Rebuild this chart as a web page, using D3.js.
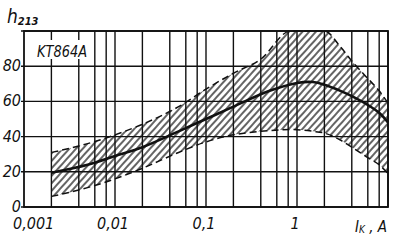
<!DOCTYPE html>
<html>
<head>
<meta charset="utf-8">
<script src="https://cdn.jsdelivr.net/npm/d3@7"></script>
<style>
  body { margin: 0; background: #fff; }
  text { font-family: "DejaVu Sans Condensed", "DejaVu Sans", sans-serif; font-style: italic; fill: #111; }
</style>
</head>
<body>
<script>
// data (h21E vs collector current)
const bandCurrent = [0.002, 0.005, 0.01, 0.02, 0.05, 0.1, 0.2, 0.4, 0.85, 1.5, 2, 3, 4, 6, 8, 10];
const bandUpper   = [31, 36, 41, 47, 57, 67, 76, 84, 100, 100, 100, 91, 83, 73, 66, 59];
const bandLower   = [6, 11, 16, 22, 31, 37, 41, 43, 44, 43, 42, 38, 34, 28, 24, 19];

const typCurrent = [0.002, 0.005, 0.01, 0.02, 0.05, 0.1, 0.2, 0.5, 1, 1.5, 2, 3, 4, 6, 8, 10];
const typGain    = [19.5, 24, 29, 34, 43, 50, 57, 66, 70.5, 71, 69.5, 66, 63, 58, 53.5, 48];

const gridCurrent = [0.002, 0.004, 0.006, 0.008, 0.01, 0.02, 0.04, 0.06, 0.08, 0.1,
                     0.2, 0.4, 0.6, 0.8, 1, 2, 4, 6, 8, 10];
const xTicks = [0.001, 0.01, 0.1, 1];
const xTickLabels = ["0,001", "0,01", "0,1", "1"];
const yTicks = [0, 20, 40, 60, 80, 100];

const W = 400, H = 247;
const x = d3.scaleLog().domain([0.001, 10]).range([24, 388]);
const y = d3.scaleLinear().domain([0, 100]).range([207, 31]);

const svg = d3.select("body").append("svg")
    .attr("width", W)
    .attr("height", H);

svg.append("rect").attr("width", W).attr("height", H).attr("fill", "#fff");

// hatch pattern
svg.append("defs").append("pattern")
    .attr("id", "hatch")
    .attr("patternUnits", "userSpaceOnUse")
    .attr("width", 5)
    .attr("height", 10)
    .attr("patternTransform", "rotate(42)")
  .append("line")
    .attr("x1", 1).attr("y1", 0)
    .attr("x2", 1).attr("y2", 10)
    .attr("stroke", "#111")
    .attr("stroke-width", 1.3);

const band = bandCurrent.map((c, i) => ({c, hi: bandUpper[i], lo: bandLower[i]}));

svg.append("path")
    .datum(band)
    .attr("fill", "url(#hatch)")
    .attr("d", d3.area()
        .x(d => x(d.c))
        .y0(d => y(d.lo))
        .y1(d => y(d.hi))
        .curve(d3.curveMonotoneX));

// grid
const grid = svg.append("g").attr("stroke", "#111").attr("stroke-width", 1.4);
grid.selectAll("line.v")
    .data(gridCurrent)
    .join("line")
    .attr("class", "v")
    .attr("x1", d => x(d)).attr("x2", d => x(d))
    .attr("y1", y(100)).attr("y2", y(0));
grid.selectAll("line.h")
    .data(yTicks)
    .join("line")
    .attr("class", "h")
    .attr("x1", x(0.001) - 3).attr("x2", x(10))
    .attr("y1", d => y(d)).attr("y2", d => y(d));

// frame
svg.append("rect")
    .attr("x", x(0.001)).attr("y", y(100))
    .attr("width", x(10) - x(0.001))
    .attr("height", y(0) - y(100))
    .attr("fill", "none")
    .attr("stroke", "#111")
    .attr("stroke-width", 1.8);

// dashed bounds
const dashed = d3.line().x(d => x(d[0])).y(d => y(d[1])).curve(d3.curveMonotoneX);
[bandUpper, bandLower].forEach(vals => {
    svg.append("path")
        .datum(bandCurrent.map((c, i) => [c, vals[i]]))
        .attr("fill", "none")
        .attr("stroke", "#111")
        .attr("stroke-width", 1.5)
        .attr("stroke-dasharray", "7,4")
        .attr("d", dashed);
});

// typical curve
svg.append("path")
    .datum(typCurrent.map((c, i) => [c, typGain[i]]))
    .attr("fill", "none")
    .attr("stroke", "#111")
    .attr("stroke-width", 2.6)
    .attr("d", d3.line().x(d => x(d[0])).y(d => y(d[1])).curve(d3.curveCatmullRom));

// y tick labels
svg.selectAll("text.ytick")
    .data(yTicks.filter(d => d < 100))
    .join("text")
    .attr("class", "ytick")
    .attr("x", 21)
    .attr("y", d => y(d) + 5)
    .attr("text-anchor", "end")
    .attr("font-size", 16)
    .text(d => d);

// x tick labels
svg.selectAll("text.xtick")
    .data(xTicks)
    .join("text")
    .attr("class", "xtick")
    .attr("x", (d, i) => i === 0 ? 13 : x(d) - 2)
    .attr("y", 229)
    .attr("text-anchor", (d, i) => i === 0 ? "start" : "middle")
    .attr("font-size", 16)
    .text((d, i) => xTickLabels[i]);

// axis titles
const yTitle = svg.append("text").attr("x", 7).attr("y", 23);
yTitle.append("tspan").attr("font-size", 19).text("h");
yTitle.append("tspan").attr("font-size", 11).attr("font-weight", "bold").attr("dy", 2).text("213");

const xTitle = svg.append("text").attr("x", 355).attr("y", 232).attr("font-size", 15);
xTitle.append("tspan").text("I");
xTitle.append("tspan").attr("font-size", 10).attr("dy", 1).text("K");
xTitle.append("tspan").attr("dy", -1).text(" , A");

// device label
svg.append("rect")
    .attr("x", 34).attr("y", 40)
    .attr("width", 56).attr("height", 19)
    .attr("fill", "#fff");
svg.append("text")
    .attr("x", 37).attr("y", 57)
    .attr("font-size", 15)
    .attr("textLength", 50)
    .attr("lengthAdjust", "spacingAndGlyphs")
    .text("KT864A");
</script>
</body>
</html>
